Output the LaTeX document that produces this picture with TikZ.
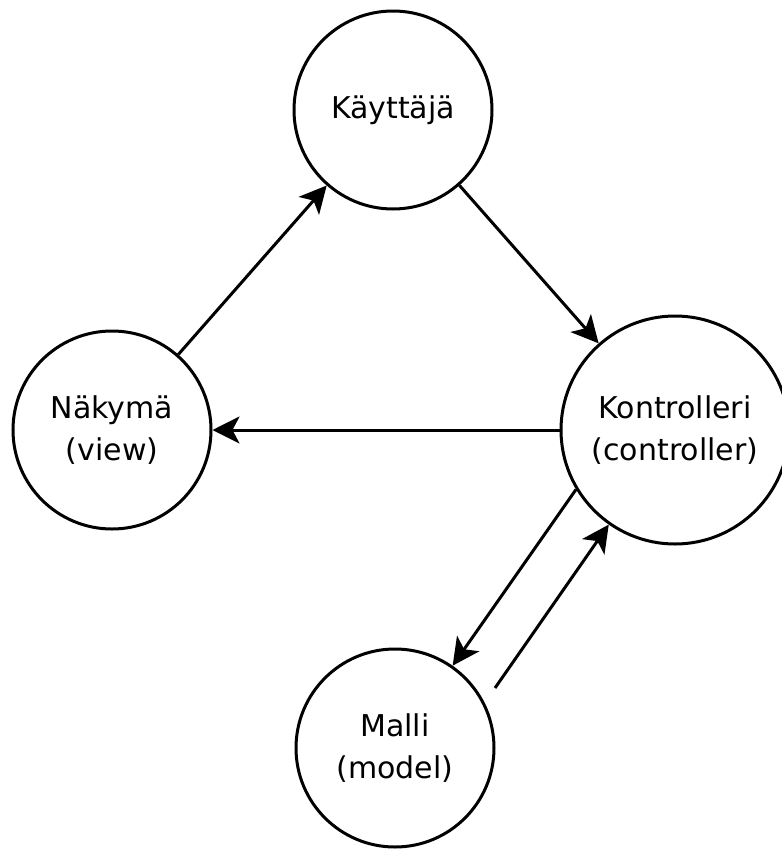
\documentclass[tikz,border=0pt]{standalone}
\usepackage{fontspec}
\setmainfont{DejaVu Sans}
\usetikzlibrary{arrows.meta}

\begin{document}
\begin{tikzpicture}[x=1pt,y=-1pt,
    state/.style={draw, circle, line width=3pt, minimum size=198pt, inner sep=0pt,
        align=center, font=\fontsize{30}{42}\selectfont},
    flow/.style={line width=3pt, -{Stealth[length=27pt,width=27pt,inset=7pt]}}]
    \useasboundingbox (0,0) rectangle (782,849);

    % States
    \node[state] (kayttaja) at (393,110) {Käyttäjä};
    \node[state] (nakyma) at (112,430) {Näkymä\\(view)};
    \node[state, minimum size=228pt] (kontrolleri) at (675,430) {Kontrolleri\\(controller)};
    \node[state] (malli) at (395,748) {Malli\\(model)};
    \coordinate (mallistart) at (495,688);

    % Flows
    \draw[flow] (nakyma) -- (kayttaja);
    \draw[flow] (kayttaja) -- (kontrolleri);
    \draw[flow] (kontrolleri) -- (nakyma);
    \draw[flow] (kontrolleri.211.8) -- (malli.55);
    \draw[flow] (mallistart) -- (kontrolleri.235);
\end{tikzpicture}
\end{document}
